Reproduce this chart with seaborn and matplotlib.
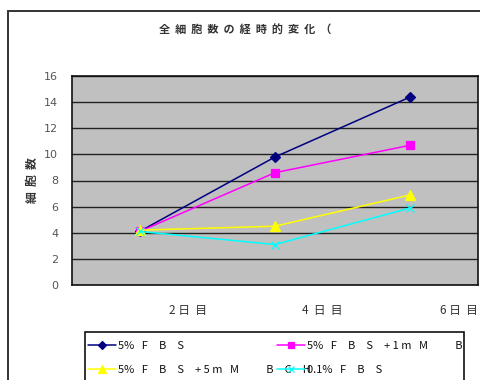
import matplotlib
matplotlib.use("Agg")
import matplotlib.pyplot as plt
from matplotlib.patches import Rectangle
from matplotlib.transforms import Bbox, TransformedBbox
import seaborn as sns

# --- data -------------------------------------------------------------
days = ["2日目", "4日目", "6日目"]
day_labels = ["2 日  目", "4  日  目", "6 日  目"]
series = ["5%FBS", "5%FBS+1mM BCH", "5%FBS+5mM BCH", "0.1%FBS"]
legend_labels = ["5%   F\u3000B\u3000S",
                 "5%   F\u3000B\u3000S\u3000+ 1 m   M\u3000\u3000  B\u3000C\u3000H",
                 "5%   F\u3000B\u3000S\u3000+ 5 m   M\u3000\u3000  B\u3000C\u3000H",
                 "0.1%   F\u3000B\u3000S"]
fbs5 = [4.1, 9.8, 14.4]
fbs5_bch1 = [4.1, 8.6, 10.7]
fbs5_bch5 = [4.2, 4.5, 6.9]
fbs01 = [4.1, 3.1, 5.9]
y_ticks = [0, 2, 4, 6, 8, 10, 12, 14, 16]
title = "全細胞数の経時的変化（"
y_title = "細胞数"

colors = ["#000080", "#FF00FF", "#FFFF00", "#00FFFF"]
markers = ["D", "s", "^", "x"]
marker_sizes = [5, 5.5, 6.5, 6]
values = [fbs5, fbs5_bch1, fbs5_bch5, fbs01]

sns.set_style("white")
plt.rcParams["font.family"] = ["Noto Sans CJK JP", "DejaVu Sans"]

W, H = 481, 380
fig = plt.figure(figsize=(W / 100, H / 100), dpi=100)
fig.patch.set_facecolor("white")

# outer chart frame
fig.add_artist(Rectangle((8 / W, -0.2), 2.0, 1 - 11 / H + 0.2,
                         transform=fig.transFigure, fill=False,
                         edgecolor="#333333", lw=1.4, zorder=0))

ax = fig.add_axes([72 / W, 1 - 285 / H, 406 / W, 209 / H])
ax.set_facecolor("#C0C0C0")

for name, vals, c, m, ms in zip(series, values, colors, markers, marker_sizes):
    sns.lineplot(x=days, y=vals, color=c, marker=m, markersize=ms,
                 markeredgecolor=c, markeredgewidth=0.9, lw=1.1,
                 label=name, ax=ax)
handles, _ = ax.get_legend_handles_labels()
if ax.get_legend() is not None:
    ax.get_legend().remove()

ax.set_xlim(-0.5, 2.5)
ax.set_ylim(0, 16)
ax.set_yticks(y_ticks)
ax.set_yticklabels([str(t) for t in y_ticks], fontsize=8, color="#555555",
                   family=["DejaVu Sans"])
ax.yaxis.grid(True, color="#222222", lw=1.0)
ax.xaxis.grid(False)
ax.set_axisbelow(True)
ax.tick_params(axis="y", length=0, pad=10)
ax.set_xticks([0.5, 1.5, 2.5])
ax.set_xticklabels(day_labels, fontsize=8.5, ha="right", color="#333333")
ax.tick_params(axis="x", direction="in", length=3, width=1, color="#222222",
               pad=14)
ax.set_xlabel("")
ax.set_ylabel("  ".join(y_title), fontsize=8.5, fontweight="bold",
              color="#333333", labelpad=4)
for s in ax.spines.values():
    s.set_color("#111111")
    s.set_linewidth(1.2)

fig.text(245 / W, 1 - 30 / H, "  ".join(title), ha="center", va="center",
         fontsize=8, fontweight="bold", color="#333333")

# legend box
lx0, lx1 = 85 / W, 464 / W
fig.add_artist(Rectangle((lx0, -0.2), lx1 - lx0, 1 - 332 / H + 0.2,
                         transform=fig.transFigure, facecolor="white",
                         edgecolor="#111111", lw=1.2, zorder=2))

order = [[0, 2], [1, 3]]
starts = [88, 277]
clip = TransformedBbox(Bbox([[lx0, 0], [lx1, 1]]), fig.transFigure)
for col, x0 in zip(order, starts):
    leg = fig.legend([handles[i] for i in col], [legend_labels[i] for i in col],
                     loc="upper left", bbox_to_anchor=(x0 / W, 1 - 341 / H),
                     frameon=False, borderpad=0, borderaxespad=0,
                     handlelength=2.5, handletextpad=0.2, labelspacing=1.25,
                     fontsize=8, labelcolor="#111111", markerscale=0.8)
    leg.set_zorder(3)
    for t in leg.get_texts():
        t.set_clip_box(clip)
        t.set_clip_on(True)

fig.savefig("out.png", dpi=100)
